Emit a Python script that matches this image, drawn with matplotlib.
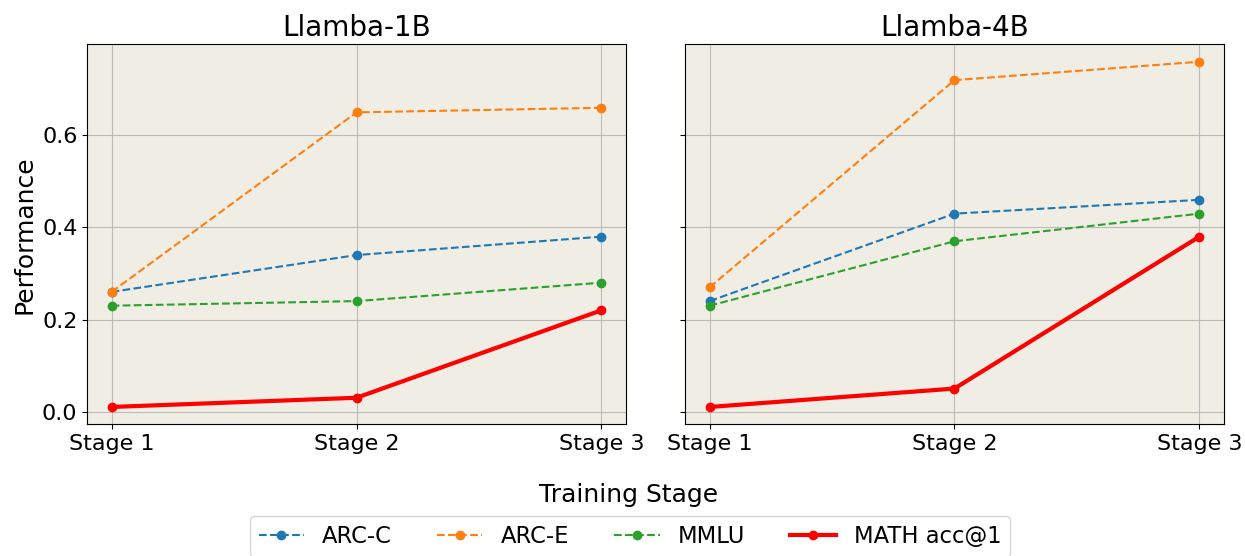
import matplotlib.pyplot as plt

stages = ["Stage 1", "Stage 2", "Stage 3"]
models = ["Llamba-1B", "Llamba-4B"]

arc_c = {"Llamba-1B": [0.26, 0.34, 0.38], "Llamba-4B": [0.24, 0.43, 0.46]}
arc_e = {"Llamba-1B": [0.26, 0.65, 0.66], "Llamba-4B": [0.27, 0.72, 0.76]}
mmlu = {"Llamba-1B": [0.23, 0.24, 0.28], "Llamba-4B": [0.23, 0.37, 0.43]}
math_acc = {"Llamba-1B": [0.01, 0.03, 0.22], "Llamba-4B": [0.01, 0.05, 0.38]}

plt.rcParams["font.size"] = 16

fig, axes = plt.subplots(1, 2, figsize=(12.45, 5.56), dpi=100, sharey=True)

for ax, m in zip(axes, models):
    ax.set_facecolor("#f0ede5")
    ax.plot(stages, arc_c[m], "o--", color="tab:blue", label="ARC-C")
    ax.plot(stages, arc_e[m], "o--", color="tab:orange", label="ARC-E")
    ax.plot(stages, mmlu[m], "o--", color="tab:green", label="MMLU")
    ax.plot(stages, math_acc[m], "o-", color="red", linewidth=3, label="MATH acc@1")
    ax.set_title(m, fontsize=20)
    ax.grid(True, color="#bbbbbb")
    ax.set_axisbelow(True)

axes[0].set_ylabel("Performance", fontsize=18)
fig.supxlabel("Training Stage", x=0.505, y=0.089, fontsize=18)

handles, labels = axes[0].get_legend_handles_labels()
fig.legend(handles, labels, loc="lower center", ncol=4, bbox_to_anchor=(0.506, -0.022),
           fontsize=16.3)

plt.subplots_adjust(left=0.07, right=0.983, top=0.92, bottom=0.237, wspace=0.11)
plt.savefig("out.png")
